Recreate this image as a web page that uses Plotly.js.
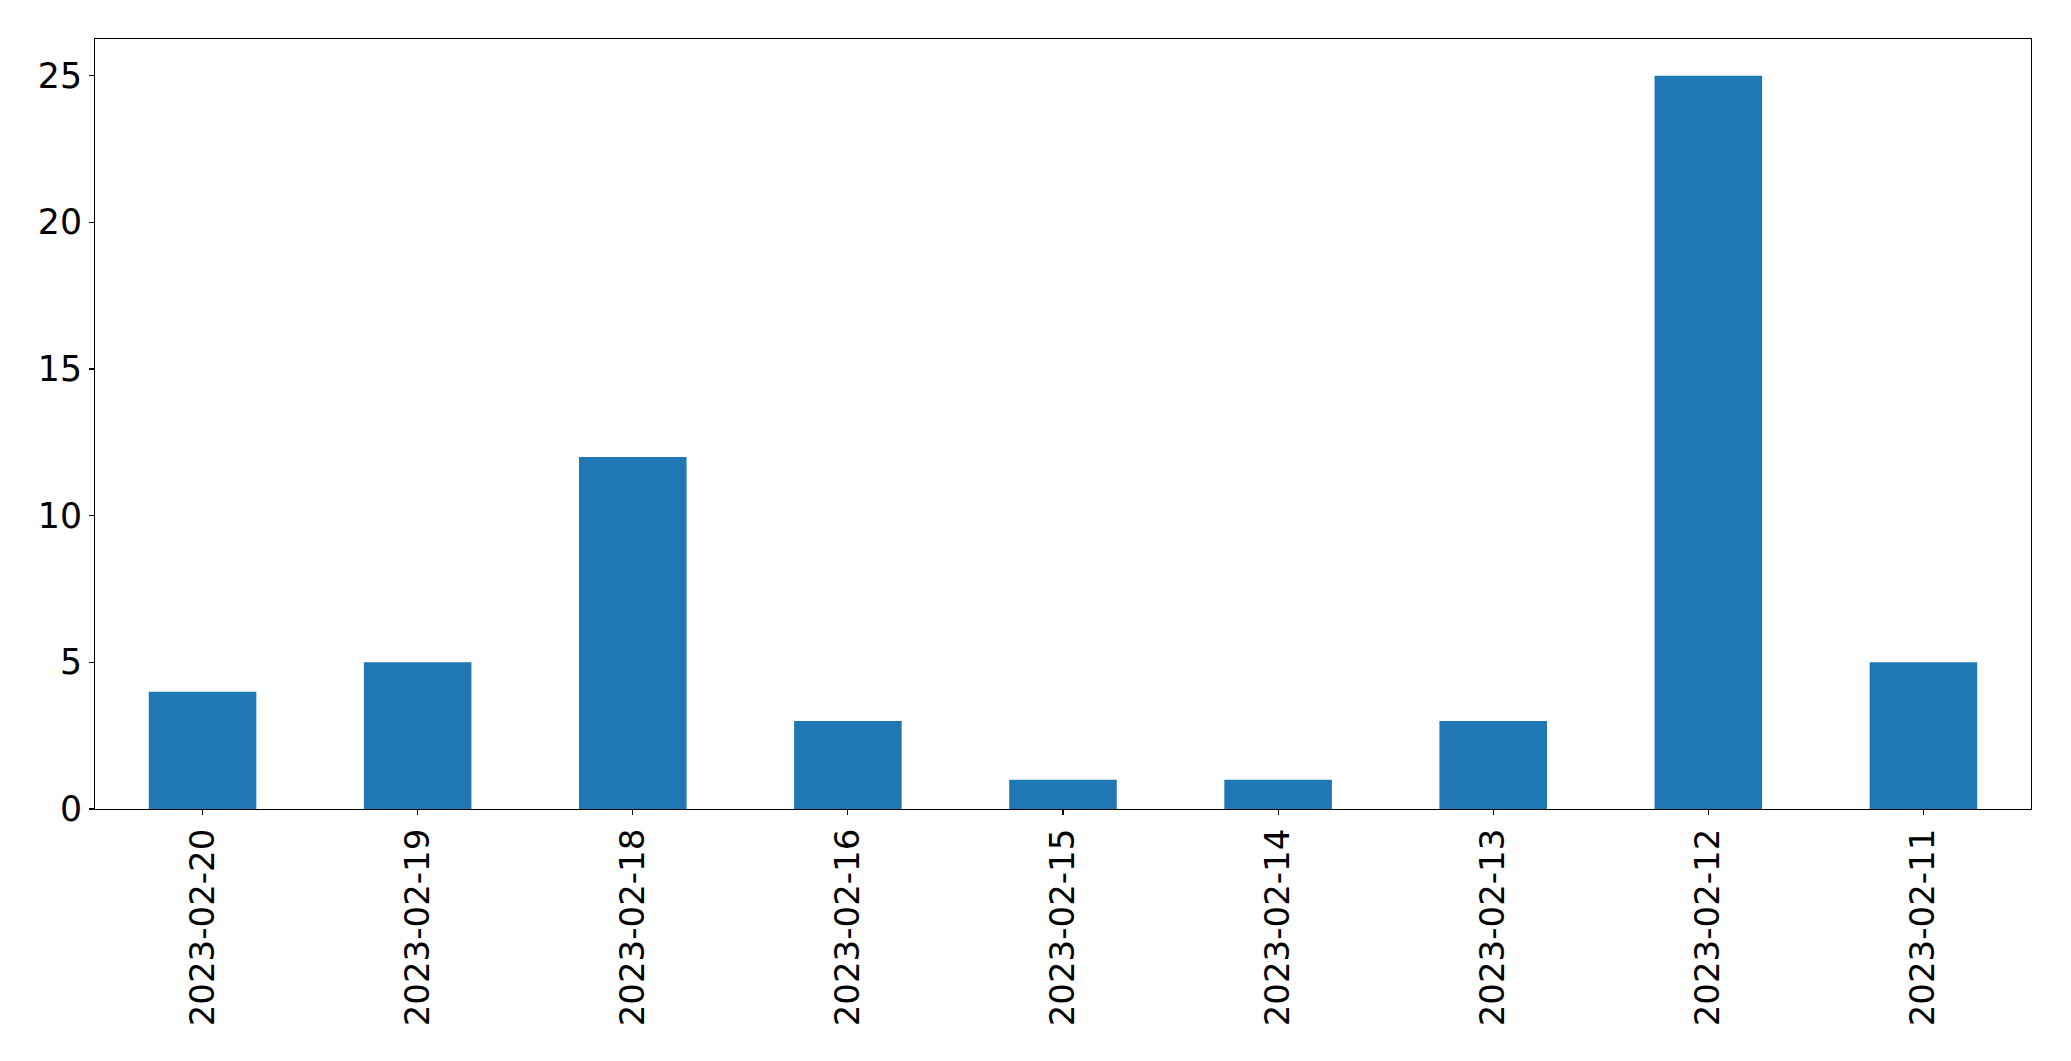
<!DOCTYPE html>
<html>
<head>
<meta charset="utf-8">
<script src="https://cdn.plot.ly/plotly-3.0.1.min.js"></script>
<style>html,body{margin:0;padding:0;background:#fff;}#chart{width:2071px;height:1061px;}</style>
</head>
<body>
<div id="chart"></div>
<script>
const categories = ["2023-02-20","2023-02-19","2023-02-18","2023-02-16","2023-02-15","2023-02-14","2023-02-13","2023-02-12","2023-02-11"];
const counts = [4, 5, 12, 3, 1, 1, 3, 25, 5];
const yTicks = [0, 5, 10, 15, 20, 25];

const font = {family: "DejaVu Sans, sans-serif", size: 34.7, color: "#000"};
const xfont = {family: "DejaVu Sans, sans-serif", size: 34, color: "#000"};

Plotly.newPlot("chart", [{
  type: "bar",
  x: categories,
  y: counts,
  marker: {color: "#1f77b4", line: {width: 0}},
  hoverinfo: "x+y"
}], {
  width: 2071,
  height: 1061,
  autosize: false,
  margin: {l: 95, r: 40, t: 39, b: 252, pad: 0},
  paper_bgcolor: "#fff",
  plot_bgcolor: "#fff",
  bargap: 0.5,
  showlegend: false,
  font: font,
  xaxis: {
    type: "category",
    range: [-0.5, categories.length - 0.5],
    tickangle: -90,
    ticks: "outside",
    ticklen: 5,
    tickwidth: 1.1,
    tickcolor: "#000",
    showline: true,
    linecolor: "#000",
    linewidth: 1.1,
    mirror: true,
    showgrid: false,
    zeroline: false,
    tickfont: xfont
  },
  yaxis: {
    range: [0, 26.25],
    tickmode: "array",
    tickvals: yTicks,
    ticktext: yTicks.map(String),
    ticks: "outside",
    ticklen: 5,
    tickwidth: 1.1,
    tickcolor: "#000",
    showline: true,
    linecolor: "#000",
    linewidth: 1.1,
    mirror: true,
    showgrid: false,
    zeroline: false,
    tickfont: font
  }
}, {staticPlot: true, displayModeBar: false});
</script>
</body>
</html>
